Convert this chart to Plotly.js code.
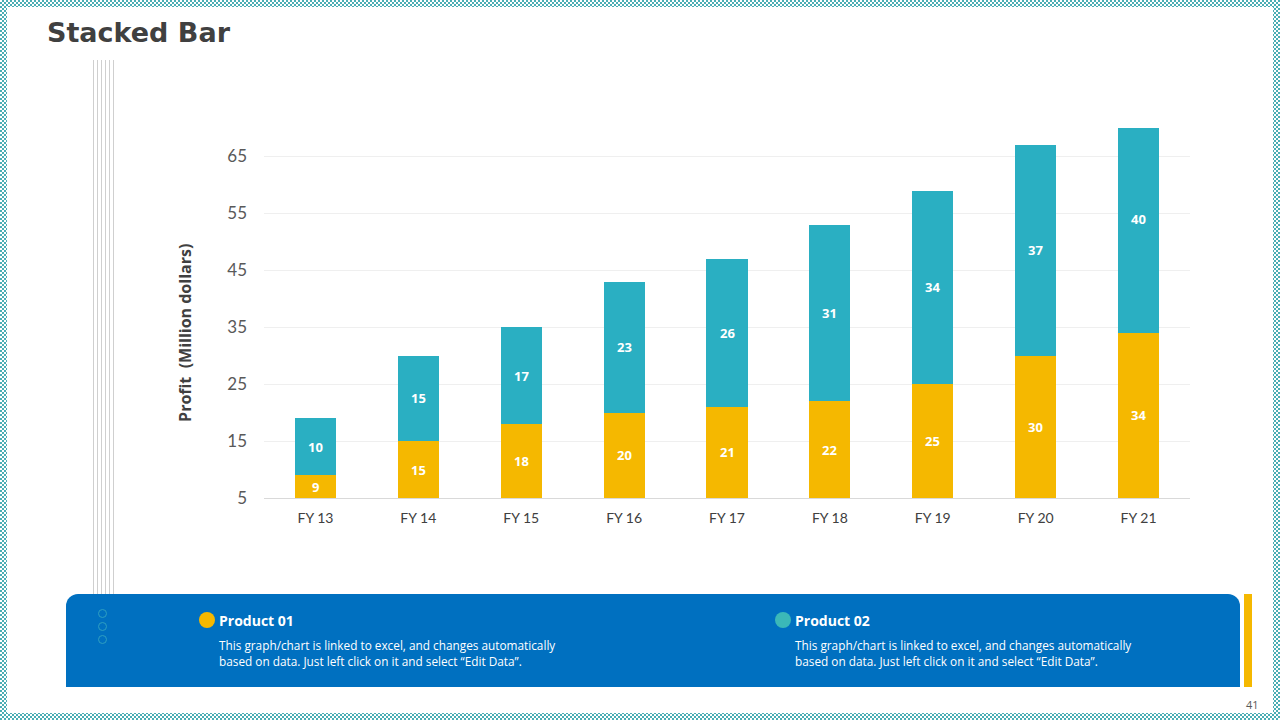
<!DOCTYPE html>
<html>
<head>
<meta charset="utf-8">
<script src="https://cdn.plot.ly/plotly-3.0.1.min.js"></script>
<style>
  html, body { margin:0; padding:0; }
  body {
    width:1280px; height:720px; position:relative; overflow:hidden;
    background-color:#ffffff;
    background-image: conic-gradient(#4aaeb4 25%, #ffffff 0 50%, #4aaeb4 0 75%, #ffffff 0);
    background-size:4px 4px;
    font-family: "Lato", "Open Sans", sans-serif;
  }
  #sheet { position:absolute; left:7px; top:7px; width:1266px; height:706px; background:#ffffff; }
  #chart { position:absolute; left:0; top:0; width:1280px; height:720px; }
  .vline { position:absolute; top:60px; height:535px; width:1px; background:#cfcfcf; }
  #title { position:absolute; left:47px; top:17px; font-family:"DejaVu Sans", "Lato", sans-serif; font-weight:bold; font-size:27px; color:#404040; }
  #box { position:absolute; left:66px; top:594px; width:1174px; height:93px; background:#0070c0; border-radius:12px 12px 0 0; }
  #ybar { position:absolute; left:1244px; top:594px; width:8px; height:93px; background:#f5b800; }
  .dot { position:absolute; width:7px; height:7px; border:1px solid #2f9fc0; border-radius:50%; }
  .leg { position:absolute; width:16px; height:16px; border-radius:50%; }
  .lh { position:absolute; color:#ffffff; font-weight:bold; font-size:14px; font-family:"Open Sans", "Lato", sans-serif; }
  .ld { position:absolute; color:#ffffff; font-size:11.8px; line-height:16px; font-family:"Open Sans", "Lato", sans-serif; }
  #pnum { position:absolute; left:1246px; top:697px; font-size:11px; color:#595959; font-family:"Open Sans", sans-serif; }
</style>
</head>
<body>
<div id="sheet"></div>
<div class="vline" style="left:93px"></div>
<div class="vline" style="left:97px"></div>
<div class="vline" style="left:101px"></div>
<div class="vline" style="left:105px"></div>
<div class="vline" style="left:109px"></div>
<div class="vline" style="left:113px"></div>
<div id="title">Stacked Bar</div>
<div id="box"></div>
<div id="ybar"></div>
<div class="dot" style="left:98px; top:609px"></div>
<div class="dot" style="left:98px; top:622px"></div>
<div class="dot" style="left:98px; top:635px"></div>
<div class="leg" style="left:199px; top:612px; background:#f5b800"></div>
<div class="lh" style="left:219px; top:611px">Product 01</div>
<div class="ld" style="left:219px; top:637px">This graph/chart is linked to excel, and changes automatically<br>based on data. Just left click on it and select “Edit Data”.</div>
<div class="leg" style="left:775px; top:612px; background:#3bb8b8"></div>
<div class="lh" style="left:795px; top:611px">Product 02</div>
<div class="ld" style="left:795px; top:637px">This graph/chart is linked to excel, and changes automatically<br>based on data. Just left click on it and select “Edit Data”.</div>
<div id="pnum">41</div>
<div id="chart"></div>
<script>
const categories = ["FY 13","FY 14","FY 15","FY 16","FY 17","FY 18","FY 19","FY 20","FY 21"];
const product01 = [9, 15, 18, 20, 21, 22, 25, 30, 34];
const product02 = [10, 15, 17, 23, 26, 31, 34, 37, 40];
const yTicks = [5, 15, 25, 35, 45, 55, 65];

const yMin = 5, yMax = 70;
const yellow = "#f5b800", teal = "#2aafc2";

const traces = [
  { type:"bar", name:"Product 01", x:categories, y:product01, marker:{color:yellow}, hoverinfo:"skip" },
  { type:"bar", name:"Product 02", x:categories, y:product02, marker:{color:teal}, hoverinfo:"skip" }
];

const labelFont = {family:"Open Sans, Lato, sans-serif", size:13, color:"#ffffff", weight:"bold"};
const annotations = [];
categories.forEach((c, i) => {
  const a = product01[i], b = product02[i];
  annotations.push({ x:c, y:(Math.max(yMin,0) + a)/2, text:String(a), showarrow:false, font:labelFont });
  annotations.push({ x:c, y:a + b/2, text:String(b), showarrow:false, font:labelFont });
});
annotations.push({
  xref:"paper", yref:"paper", x:-0.0847, y:0.445, xanchor:"center", yanchor:"middle",
  textangle:-90, showarrow:false, text:"Profit  (Million dollars)",
  font:{size:16, color:"#404040", family:"Open Sans, Lato, sans-serif", weight:"bold"}
});

const layout = {
  width:1280, height:720,
  margin:{l:263.5, r:89.5, t:127.5, b:222, pad:0},
  paper_bgcolor:"rgba(0,0,0,0)", plot_bgcolor:"rgba(0,0,0,0)",
  barmode:"stack", bargap:0.6,
  showlegend:false,
  font:{family:"Lato, Open Sans, sans-serif"},
  xaxis:{
    type:"category", showgrid:false, zeroline:false,
    showline:true, linecolor:"#d9d9d9", linewidth:1,
    ticks:"", tickfont:{size:14, color:"#404040", family:"Lato, Open Sans, sans-serif"},
    ticklabelstandoff:7
  },
  yaxis:{
    range:[yMin, yMax], tickmode:"array", tickvals:yTicks, ticktext:yTicks.map(String),
    showgrid:true, gridcolor:"#efefef", gridwidth:1, zeroline:false, showline:false,
    ticks:"", tickfont:{size:17, color:"#595959", family:"Lato, Open Sans, sans-serif"},
    ticklabelstandoff:16
  },
  annotations:annotations
};

Plotly.newPlot("chart", traces, layout, {displayModeBar:false, staticPlot:true});
</script>
</body>
</html>
